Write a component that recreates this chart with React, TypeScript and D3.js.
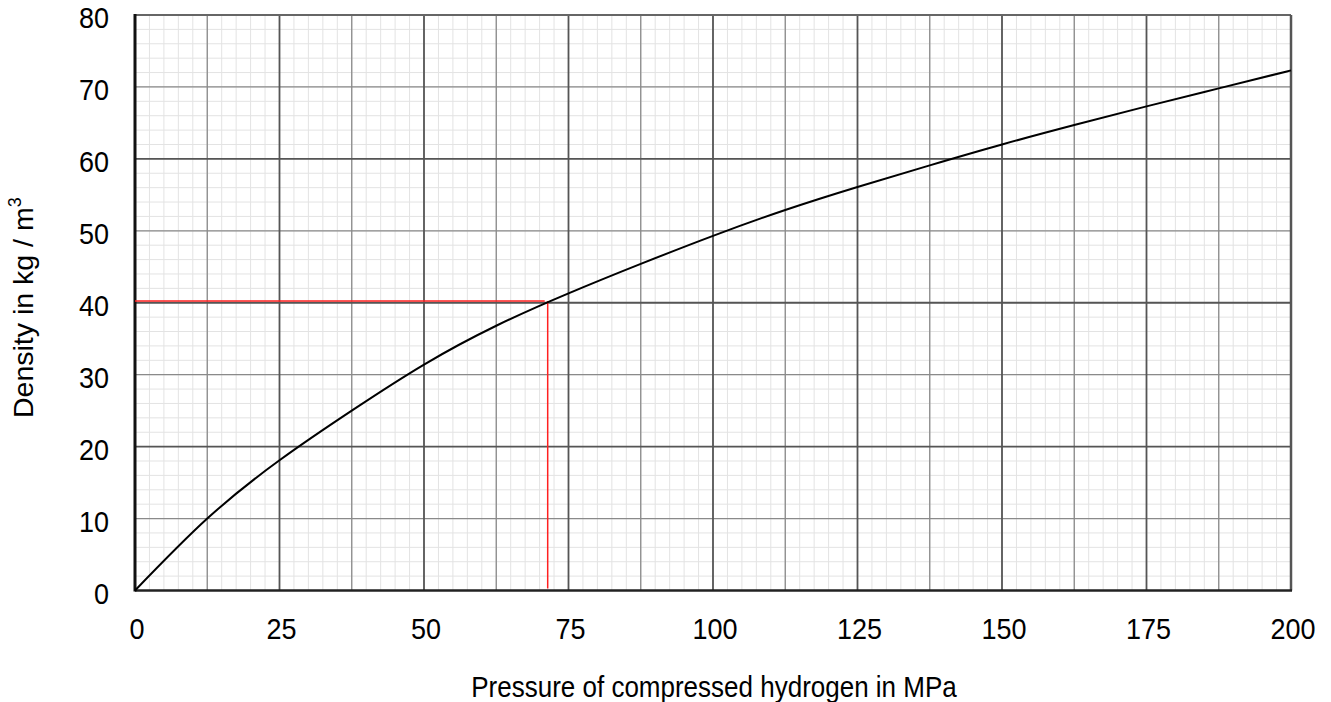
import React from "react";
import * as d3 from "d3";

const pressure = [0, 12.5, 25, 37.5, 50, 62.5, 75, 87.5, 100, 112.5, 125, 137.5, 150, 162.5, 175, 187.5, 200];
const density = [0, 10, 18.1, 25.0, 31.4, 36.8, 41.3, 45.4, 49.3, 52.9, 56.1, 59.1, 62.0, 64.7, 67.3, 69.8, 72.3];
const xTicks = [0, 25, 50, 75, 100, 125, 150, 175, 200];
const yTicks = [0, 10, 20, 30, 40, 50, 60, 70, 80];
const markerX = [0, 71.4];
const markerY = [0, 40.25];

export default function App() {
  const W = 1331, H = 702;
  const x = d3.scaleLinear().domain([0, 200]).range([135, 1291]);
  const y = d3.scaleLinear().domain([0, 80]).range([590.5, 15]);

  const minorX = d3.range(0, 200.01, 2.5);
  const minorY = d3.range(0, 80.01, 2);
  const midX = d3.range(12.5, 200, 25);
  const midY = d3.range(10, 80, 20);
  const majX = d3.range(25, 200, 25);
  const majY = d3.range(20, 80, 20);

  const pts: [number, number][] = pressure.map((p, i) => [p, density[i]]);
  const line = d3.line<[number, number]>().x(d => x(d[0])).y(d => y(d[1])).curve(d3.curveNatural);

  const font = "'Liberation Sans', Arial, sans-serif";
  const sy = 1.1;
  return (
    <svg width={W} height={H} style={{ position: "absolute", left: 0, top: 0 }}>
      <rect width={W} height={H} fill="white" />
      {minorX.map(v => <line key={"mx" + v} x1={x(v)} x2={x(v)} y1={y(0)} y2={y(80)} stroke="#e3e3e3" strokeWidth={1} />)}
      {minorY.map(v => <line key={"my" + v} x1={x(0)} x2={x(200)} y1={y(v)} y2={y(v)} stroke="#e3e3e3" strokeWidth={1} />)}
      {midX.map(v => <line key={"dx" + v} x1={x(v)} x2={x(v)} y1={y(0)} y2={y(80)} stroke="#8a8a8a" strokeWidth={1.3} />)}
      {midY.map(v => <line key={"dy" + v} x1={x(0)} x2={x(200)} y1={y(v)} y2={y(v)} stroke="#8a8a8a" strokeWidth={1.3} />)}
      {majX.map(v => <line key={"Mx" + v} x1={x(v)} x2={x(v)} y1={y(0)} y2={y(80)} stroke="#555" strokeWidth={1.8} />)}
      {majY.map(v => <line key={"My" + v} x1={x(0)} x2={x(200)} y1={y(v)} y2={y(v)} stroke="#555" strokeWidth={1.8} />)}
      {/* frame */}
      <line x1={x(0)} x2={x(200)} y1={y(80)} y2={y(80)} stroke="#666" strokeWidth={2} />
      <line x1={x(200)} x2={x(200)} y1={y(80)} y2={y(0)} stroke="#555" strokeWidth={2.5} />
      <line x1={x(0)} x2={x(200) + 1} y1={y(0)} y2={y(0)} stroke="#222" strokeWidth={2.5} />
      <line x1={x(0)} x2={x(0)} y1={y(80) - 1} y2={y(0) + 1} stroke="#111" strokeWidth={3} />
      {/* red marker */}
      <line x1={x(markerX[0])} x2={x(markerX[1]) - 3} y1={y(markerY[1])} y2={y(markerY[1])} stroke="#ff2020" strokeWidth={1.5} />
      <line x1={x(markerX[1])} x2={x(markerX[1])} y1={y(markerY[1])} y2={y(markerY[0]) - 2} stroke="#ff2020" strokeWidth={1.5} />
      {/* curve */}
      <path d={line(pts) || ""} fill="none" stroke="#000" strokeWidth={2} />
      {/* tick labels */}
      {yTicks.map(v => (
        <text key={"yt" + v} transform={`translate(109,${y(v) + 3}) scale(1,${sy})`} dy="0.35em" textAnchor="end" fontFamily={font} fontSize={27} fill="#000">{v}</text>
      ))}
      {xTicks.map(v => (
        <text key={"xt" + v} transform={`translate(${x(v) + 2},629) scale(1,${sy})`} dy="0.35em" textAnchor="middle" fontFamily={font} fontSize={27} fill="#000">{v}</text>
      ))}
      <text transform={`translate(714,687) scale(1,${sy})`} dy="0.35em" textAnchor="middle" fontFamily={font} fontSize={26} fill="#000">Pressure of compressed hydrogen in MPa</text>
      <text transform={`translate(33,418) rotate(-90)`} textAnchor="start" fontFamily={font} fontSize={28.5} fill="#000">
        Density in kg / m<tspan fontSize={18} dy="-12">3</tspan>
      </text>
    </svg>
  );
}
